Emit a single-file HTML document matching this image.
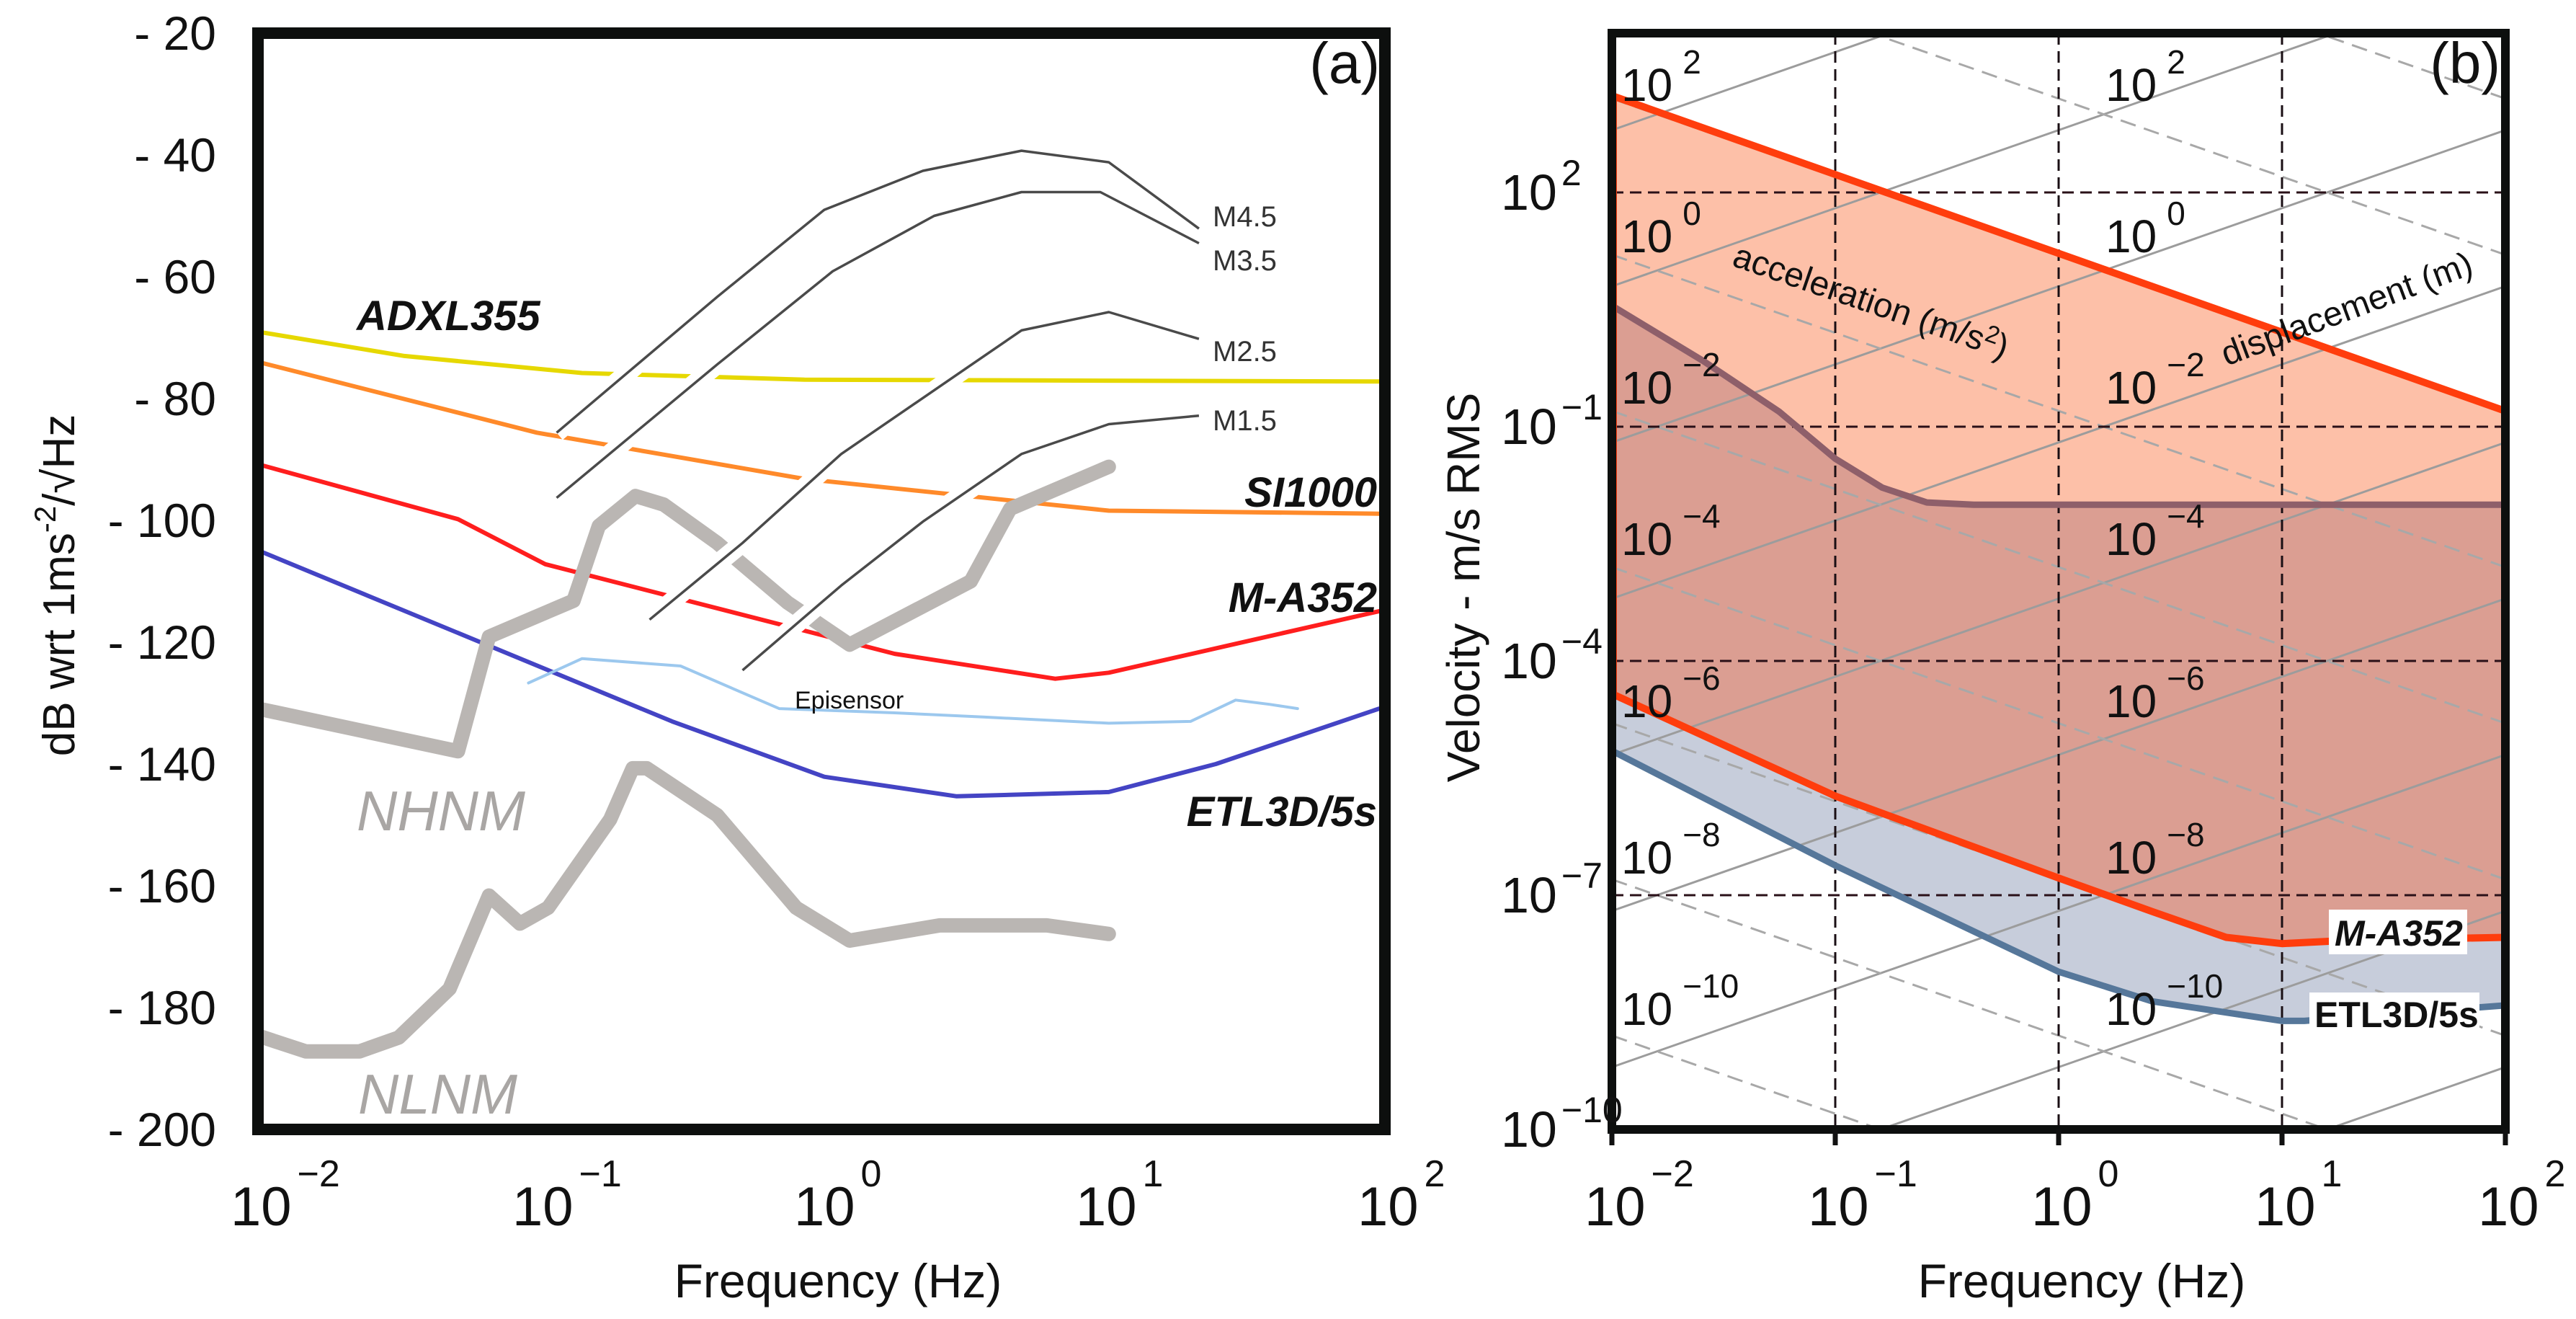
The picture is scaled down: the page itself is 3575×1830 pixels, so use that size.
<!DOCTYPE html>
<html><head><meta charset="utf-8"><style>
html,body{margin:0;padding:0;background:#fff;overflow:hidden;}
svg{display:block;font-family:"Liberation Sans",Arial,sans-serif;}
</style></head><body>
<svg id="fig" xmlns="http://www.w3.org/2000/svg" width="3575" height="1830" viewBox="0 0 3575 1830">
<defs>
<clipPath id="clipA"><rect x="358" y="46" width="1564" height="1521"/></clipPath>
<clipPath id="clipB"><rect x="2237" y="46" width="1240" height="1521"/></clipPath>
</defs>
<rect x="0" y="0" width="3575" height="1830" fill="#fff"/>
<g id="panelA"></g>
<g id="panelB"></g>
</svg>
<script>
// ===== Panel (a) data : log10(freq) and dB =====
const adxlF = [-1.99,-1.48,-0.85,-0.06,1.98];
const adxlDB = [-69.1,-73,-75.8,-76.9,-77.2];
const si1000F = [-1.99,-1.01,-0.06,1.02,1.98];
const si1000DB = [-74.1,-85.6,-93.2,-98.4,-98.9];
const ma352F = [-1.99,-1.29,-0.98,0.26,0.83,1.02,1.98];
const ma352DB = [-90.9,-99.8,-107.2,-121.9,-126.0,-125.0,-114.9];
const etlF = [-1.99,-0.53,0.01,0.48,1.02,1.40,1.98];
const etlDB = [-105.1,-133.0,-142.1,-145.3,-144.6,-140,-130.9];
const epiF = [-1.04,-0.85,-0.50,-0.15,0.26,0.58,1.02,1.31,1.47,1.59,1.69];
const epiDB = [-126.7,-122.7,-123.9,-130.9,-131.6,-132.3,-133.3,-133,-129.5,-130.2,-130.9];
const nhnmF = [-2,-1.29,-1.18,-0.88,-0.79,-0.66,-0.56,-0.37,-0.12,0.10,0.53,0.67,1.02];
const nhnmDB = [-130.9,-137.9,-119.1,-113.2,-100.9,-96.0,-97.4,-103.7,-113.5,-120.4,-110,-98.1,-91.2];
const nlnmF = [-2,-1.83,-1.64,-1.50,-1.32,-1.18,-1.07,-0.97,-0.75,-0.67,-0.62,-0.37,-0.09,0.10,0.42,0.80,1.02];
const nlnmDB = [-184.6,-187.2,-187.2,-184.9,-176.9,-161.6,-166.2,-163.6,-149.1,-140.7,-140.7,-148.4,-163.6,-169,-166.5,-166.5,-167.9];
const m45F = [-0.94,-0.37,0.01,0.36,0.71,1.02,1.34];
const m45DB = [-85.6,-63.3,-49,-42.6,-39.3,-41.2,-52.1];
const m35F = [-0.94,-0.37,0.04,0.40,0.71,0.99,1.34];
const m35DB = [-96.3,-74.4,-59.1,-50,-46.1,-46.1,-54.5];
const m25F = [-0.61,-0.28,0.07,0.71,1.02,1.34];
const m25DB = [-116.3,-103.7,-89.1,-68.8,-65.8,-70.2];
const m15F = [-0.28,0.07,0.36,0.71,1.02,1.34];
const m15DB = [-124.6,-110.7,-100.2,-89.1,-84.2,-82.8];
const aYTicks = [-20,-40,-60,-80,-100,-120,-140,-160,-180,-200];
const xTickExp = [-2,-1,0,1,2];

// ===== Panel (b) data : log10(freq) and log10(velocity) =====
const upperF = [-2,2];
const upperV = [3.24,-0.80];
const mauveF = [-2,-1.59,-1.25,-1.0,-0.79,-0.59,-0.38,2];
const mauveV = [0.55,-0.16,-0.81,-1.41,-1.78,-1.97,-2.0,-2.0];
const lowF = [-2,-1,0,0.42,0.75,1.0,1.29,2];
const lowV = [-4.42,-5.73,-6.78,-7.21,-7.54,-7.62,-7.58,-7.54];
const etlBF = [-2,-1,0,0.42,1.0,1.1,2];
const etlBV = [-5.15,-6.62,-7.98,-8.36,-8.61,-8.61,-8.41];
const bYTicks = [2,-1,-4,-7,-10];
const dispExp = [-16,-14,-12,-10,-8,-6,-4,-2,0,2,4];
const accExp = [-10,-8,-6,-4,-2,0,2,4,6];
const diagLabelExp = [2,0,-2,-4,-6,-8,-10];

const NS = "http://www.w3.org/2000/svg";
const A = document.getElementById('panelA');
const B = document.getElementById('panelB');
function el(tag, attrs, parent){const e=document.createElementNS(NS,tag);for(const k in attrs)e.setAttribute(k,attrs[k]);parent.appendChild(e);return e;}

const aL=358,aR=1922,aT=46,aBt=1567;
function xa(lf){return aL+(lf+2)/4*(aR-aL);}
function ya(db){return aT+(-20-db)/180*(aBt-aT);}
const bL=2237,bR=3477,bT=46,bBt=1567,bTop=4.04,bBot=-10;
function xb(lf){return bL+(lf+2)/4*(bR-bL);}
function yb(lv){return bT+(bTop-lv)/(bTop-bBot)*(bBt-bT);}
function pathA(F,D){return F.map((f,i)=>(i?'L':'M')+xa(f).toFixed(1)+' '+ya(D[i]).toFixed(1)).join(' ');}
function pathB(F,V){return F.map((f,i)=>(i?'L':'M')+xb(f).toFixed(1)+' '+yb(V[i]).toFixed(1)).join(' ');}
function ptsB(F,V){return F.map((f,i)=>xb(f).toFixed(1)+','+yb(V[i]).toFixed(1));}

// ---------- Panel A ----------
const gA = el('g',{'clip-path':'url(#clipA)'},A);
const curvesA=[
 [nlnmF,nlnmDB,'#bab6b3',20,'nlnm-curve'],
 [adxlF,adxlDB,'#e6d800',6,'adxl355-curve'],
 [si1000F,si1000DB,'#ff8a2a',6,'si1000-curve'],
 [ma352F,ma352DB,'#ff1e1e',6,'m-a352-curve'],
 [etlF,etlDB,'#4444c4',6,'etl3d-curve'],
 [epiF,epiDB,'#9cc8ee',4,'episensor-curve'],
 [nhnmF,nhnmDB,'#bab6b3',20,'nhnm-curve']
];
curvesA.forEach(c=>{
 const p=el('path',{d:pathA(c[0],c[1]),fill:'none',stroke:c[2],'stroke-width':c[3],'stroke-linejoin':'round','stroke-linecap':'round'},gA);
 
 
});
const mags=[[m45F,m45DB,'m4.5-curve'],[m35F,m35DB,'m3.5-curve'],[m25F,m25DB,'m2.5-curve'],[m15F,m15DB,'m1.5-curve']];
mags.forEach(m=>{
 el('path',{d:pathA(m[0],m[1]),fill:'none',stroke:'#fff','stroke-width':26,'stroke-linejoin':'round'},gA);
});
mags.forEach(m=>{
 const p=el('path',{d:pathA(m[0],m[1]),fill:'none',stroke:'#4a4a4a','stroke-width':3.5,'stroke-linejoin':'round'},gA);
 
 
});
const boxA=el('rect',{x:aL,y:aT,width:aR-aL,height:aBt-aT,fill:'none',stroke:'#0d0f0e','stroke-width':16},A);


aYTicks.forEach(v=>{
 const t=el('text',{x:300,y:ya(v)+23,'font-size':66,'text-anchor':'end',fill:'#111'},A);
 t.textContent='- '+(-v);
 
 
});
function xTick(parent,x,e,name){
 const t=el('text',{x:x-38,y:1700,'font-size':76,fill:'#111'},parent);
 t.textContent='10';
 const s=el('tspan',{dx:8,dy:-54,'font-size':52},t);
 s.textContent=(e<0?'\u2212':'')+Math.abs(e);
 
 
}
xTickExp.forEach(e=>xTick(A,xa(e),e,'x-tick-label-a'));
function txt(parent,x,y,s,attrs,name){const t=el('text',Object.assign({x:x,y:y,fill:'#111'},attrs),parent);t.textContent=s;return t;}
txt(A,1163,1800,'Frequency (Hz)',{'font-size':66,'text-anchor':'middle'},'x-axis-title-a');
const yt=txt(A,0,0,'',{'font-size':62,'text-anchor':'middle',transform:'translate(103,812) rotate(-90)'},'y-axis-title-a');
yt.textContent='dB wrt 1ms';
const ys1=el('tspan',{dy:-26,'font-size':42},yt);ys1.textContent='-2';
const ys2=el('tspan',{dy:26},yt);ys2.textContent='/\u221AHz';
txt(A,1915,115,'(a)',{'font-size':80,'text-anchor':'end'},'panel-label-a');
const bi={'font-size':58,'font-weight':'bold','font-style':'italic'};
txt(A,495,458,'ADXL355',Object.assign({},bi),'adxl355-label');
txt(A,1911,703,'SI1000',Object.assign({'text-anchor':'end'},bi),'si1000-label');
txt(A,1911,849,'M-A352',Object.assign({'text-anchor':'end'},bi),'m-a352-label-a');
txt(A,1911,1146,'ETL3D/5s',Object.assign({'text-anchor':'end'},bi),'etl3d-label-a');
txt(A,495,1152,'NHNM',{'font-size':78,'font-style':'italic',fill:'#a9a6a4'},'nhnm-label');
txt(A,497,1545,'NLNM',{'font-size':78,'font-style':'italic',fill:'#a9a6a4'},'nlnm-label');
txt(A,1103,983,'Episensor',{'font-size':34},'episensor-label');
[['M4.5',314],['M3.5',375],['M2.5',501],['M1.5',597]].forEach(m=>txt(A,1683,m[1],m[0],{'font-size':40,fill:'#333'},'magnitude-label'));

// ---------- Panel B ----------
const gB = el('g',{'clip-path':'url(#clipB)'},B);
const salmon=el('polygon',{points:ptsB(upperF,upperV).concat(ptsB(mauveF,mauveV).reverse()).join(' '),fill:'#fdc0a8'},gB);


const blue=el('polygon',{points:ptsB(lowF,lowV).concat(ptsB(etlBF,etlBV).reverse()).join(' '),fill:'#c7cddb'},gB);


const dark=el('polygon',{points:ptsB(mauveF,mauveV).concat(ptsB(lowF,lowV).reverse()).join(' '),fill:'#db9e92'},gB);


const L2PI=Math.log10(2*Math.PI);
dispExp.forEach(k=>{
 const l=el('line',{x1:xb(-2),y1:yb(L2PI-2+k),x2:xb(2),y2:yb(L2PI+2+k),stroke:'#9c9c9c','stroke-width':3},gB);
 
 
});
accExp.forEach(k=>{
 const l=el('line',{x1:xb(-2),y1:yb(k-L2PI+2),x2:xb(2),y2:yb(k-L2PI-2),stroke:'#a8a8a8','stroke-width':3,'stroke-dasharray':'22 12'},gB);
 
 
});
[-1,0,1].forEach(e=>{
 const g=el('line',{x1:xb(e),y1:bT,x2:xb(e),y2:bBt,stroke:'#1a0f14','stroke-width':3,'stroke-dasharray':'16 9'},gB);
 
 
});
[2,-1,-4,-7].forEach(e=>{
 const g=el('line',{x1:bL,y1:yb(e),x2:bR,y2:yb(e),stroke:'#2a1018','stroke-width':3,'stroke-dasharray':'16 9'},gB);
 
 
});
const curvesB=[
 [etlBF,etlBV,'#56779a',9,'etl3d-curve-b'],
 [mauveF,mauveV,'#8e5f6a',9,'mauve-curve'],
 [lowF,lowV,'#ff3d0d',10,'m-a352-curve-b'],
 [upperF,upperV,'#ff3d0d',10,'upper-limit-curve']
];
curvesB.forEach(c=>{
 const p=el('path',{d:pathB(c[0],c[1]),fill:'none',stroke:c[2],'stroke-width':c[3],'stroke-linejoin':'round'},gB);
 
 
});
const lv=el('line',{x1:bL+3,y1:yb(upperV[0]),x2:bL+3,y2:yb(lowV[0]),stroke:'#ff3d0d','stroke-width':8},gB);


const boxB=el('rect',{x:bL,y:bT,width:bR-bL,height:bBt-bT,fill:'none',stroke:'#0d0f0e','stroke-width':12},B);


xTickExp.forEach(e=>{
 const t=el('line',{x1:xb(e),y1:bBt,x2:xb(e),y2:bBt+22,stroke:'#111','stroke-width':7},B);
 
 
 xTick(B,xb(e),e,'x-tick-label-b');
});
bYTicks.forEach(e=>{
 const t=el('text',{x:2083,y:yb(e)+24,'font-size':70,fill:'#111'},B);
 t.textContent='10';
 const s=el('tspan',{dx:6,dy:-34,'font-size':50},t);
 s.textContent=(e<0?'\u2212':'')+Math.abs(e);
 
 
});
const diagY=[140,350,560,770,995,1212,1422];
diagLabelExp.forEach((e,i)=>{
 [2250,2922].forEach(x=>{
  const t=el('text',{x:x,y:diagY[i],'font-size':64,fill:'#111'},B);
  t.textContent='10';
  const s=el('tspan',{dx:14,dy:-38,'font-size':46},t);
  s.textContent=(e<0?'\u2212':'')+Math.abs(e);
  
  
 });
});
const acc=txt(B,0,0,'acceleration (m/s',{'font-size':48,transform:'translate(2402,368) rotate(19)'},'acceleration-axis-label');
const as=el('tspan',{dy:-16,'font-size':34},acc);as.textContent='2';
const as2=el('tspan',{dy:16},acc);as2.textContent=')';
txt(B,0,0,'displacement (m)',{'font-size':48,transform:'translate(3090,508) rotate(-20.5)'},'displacement-axis-label');
txt(B,3470,115,'(b)',{'font-size':80,'text-anchor':'end'},'panel-label-b');
const mb=el('rect',{x:3232,y:1262,width:192,height:62,fill:'#fff'},B);


txt(B,3240,1312,'M-A352',{'font-size':50,'font-weight':'bold','font-style':'italic'},'m-a352-label-b');
const eb=el('rect',{x:3205,y:1377,width:236,height:62,fill:'#fff'},B);


txt(B,3212,1425,'ETL3D/5s',{'font-size':50,'font-weight':'bold'},'etl3d-label-b');
txt(B,2889,1800,'Frequency (Hz)',{'font-size':66,'text-anchor':'middle'},'x-axis-title-b');
txt(B,0,0,'Velocity - m/s RMS',{'font-size':64,'text-anchor':'middle',transform:'translate(2053,815) rotate(-90)'},'y-axis-title-b');
</script>
</body></html>
